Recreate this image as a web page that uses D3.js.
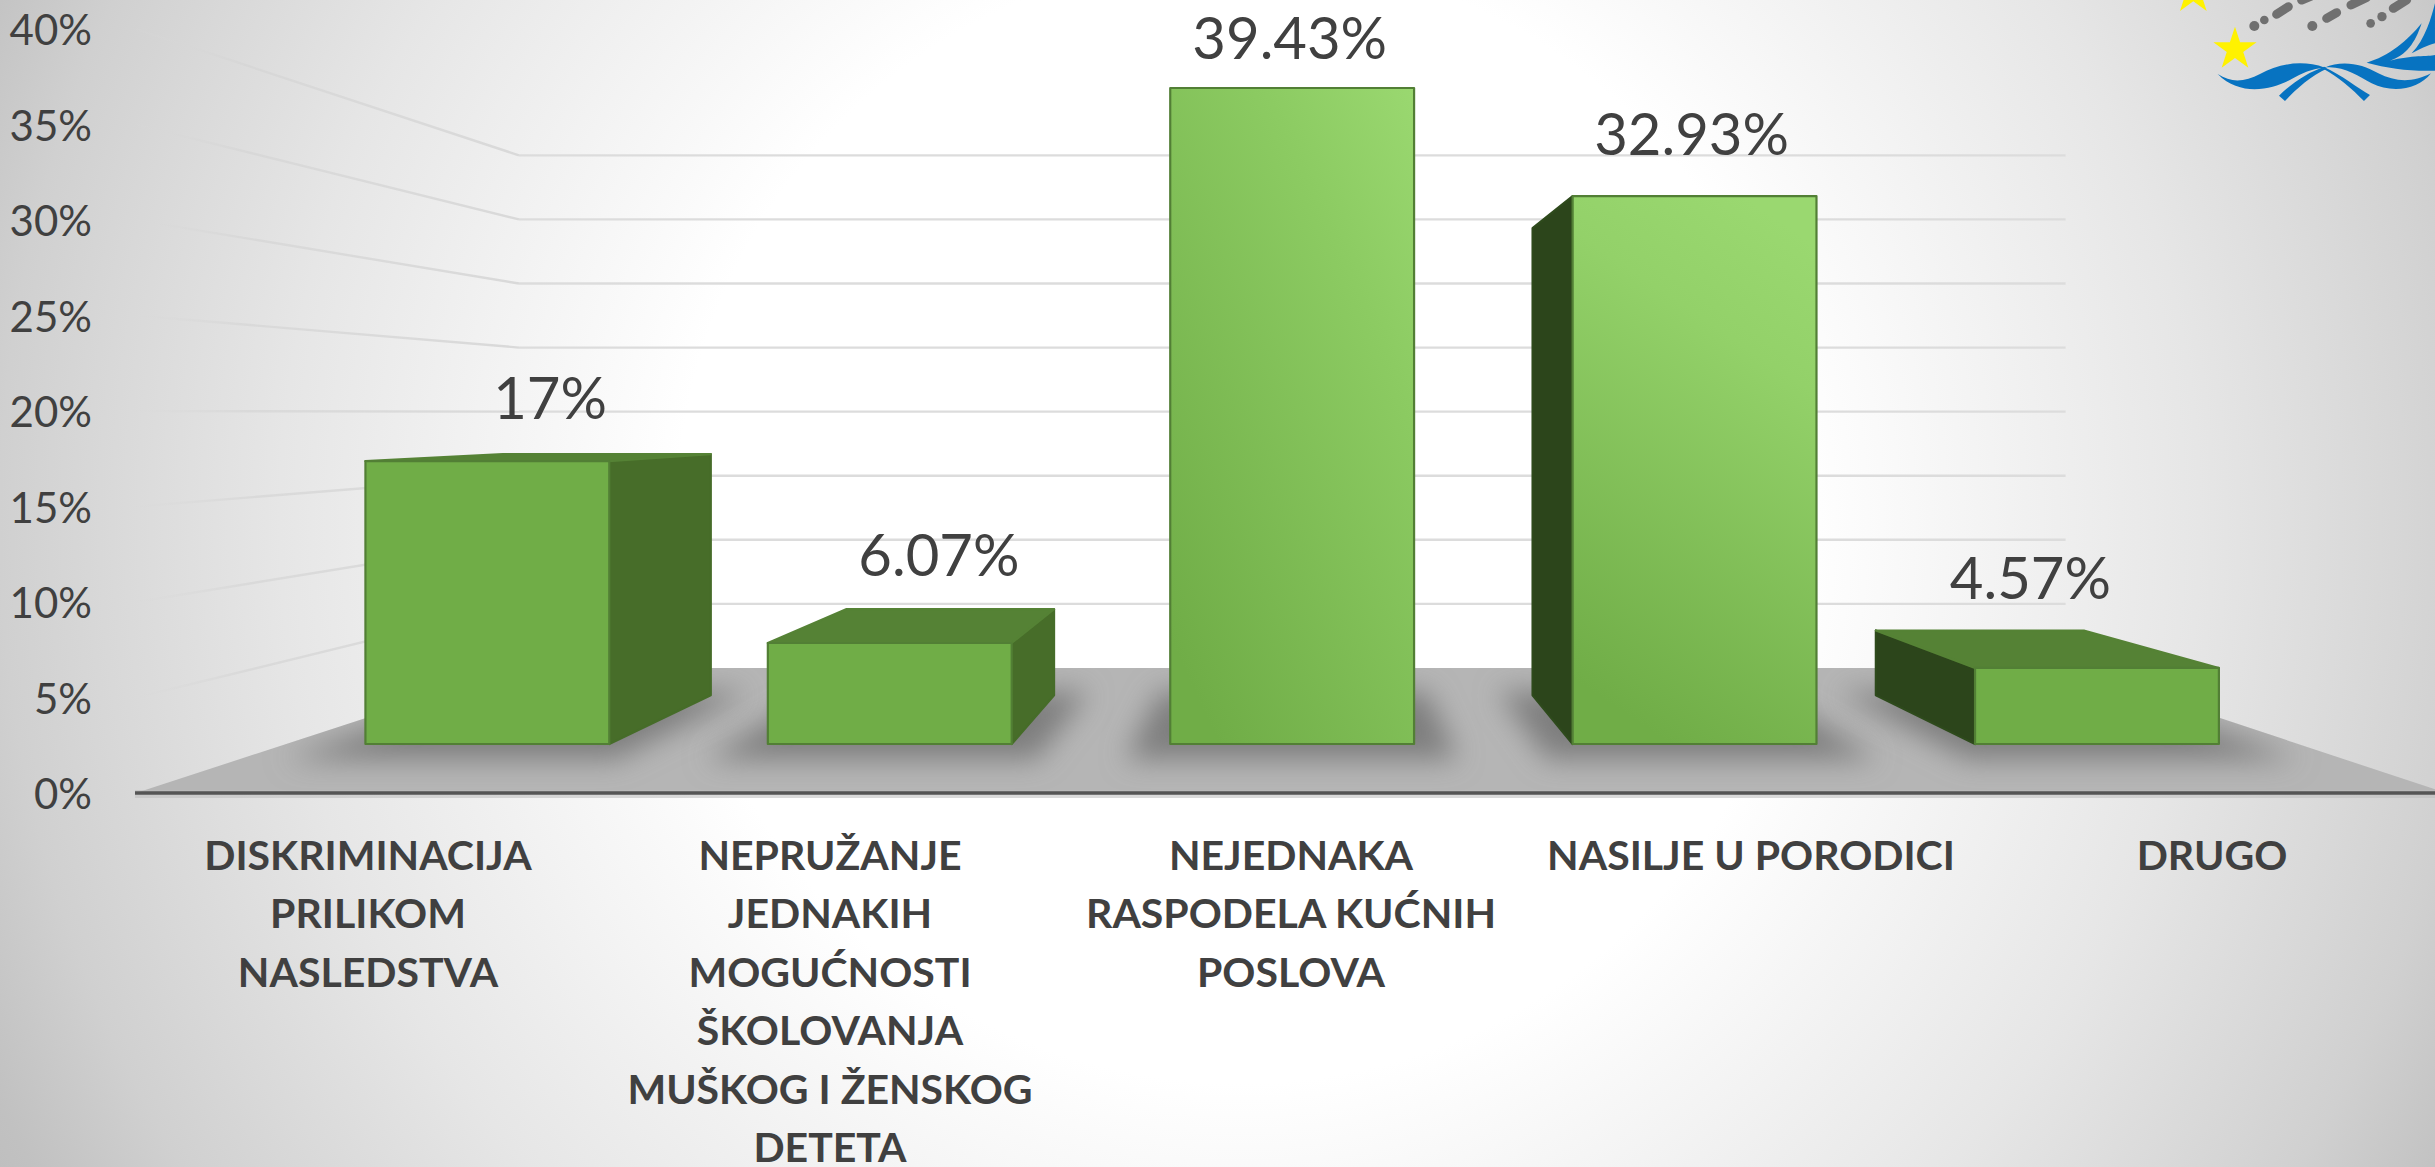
<!DOCTYPE html>
<html><head><meta charset="utf-8">
<script src="https://cdn.jsdelivr.net/npm/d3@7"></script>
<style>html,body{margin:0;padding:0;background:#fff;overflow:hidden}svg{display:block}</style>
</head><body><svg id="c" width="2435" height="1167"></svg>
<script>
const categories = [
  ["DISKRIMINACIJA","PRILIKOM","NASLEDSTVA"],
  ["NEPRUŽANJE","JEDNAKIH","MOGUĆNOSTI","ŠKOLOVANJA","MUŠKOG I ŽENSKOG","DETETA"],
  ["NEJEDNAKA","RASPODELA KUĆNIH","POSLOVA"],
  ["NASILJE U PORODICI"],
  ["DRUGO"]
];
const values = [17, 6.07, 39.43, 32.93, 4.57];
const valueLabels = ["17%","6.07%","39.43%","32.93%","4.57%"];
const ticks = [0,5,10,15,20,25,30,35,40];

// layout / style constants
const W=2435,H=1167, VP={x:1300,y:413};
const sFront=.871, sBack=.743, sWall=.671;
const labelNudge=[[3,-39],[19,-50],[-3,-53],[26,-57],[-8,-50]];
const svg=d3.select("#c");
const defs=svg.append("defs");

const bg=defs.append("radialGradient").attr("id","bg").attr("gradientUnits","userSpaceOnUse")
  .attr("cx",1240).attr("cy",520).attr("r",1400);
[[0,"#ffffff"],[563,"#ffffff"],[770,"#f2f2f2"],[960,"#e6e6e6"],[1140,"#d8d8d8"],[1240,"#d0d0d0"],[1370,"#c1c1c1"],[1400,"#bfbfbf"]]
  .forEach(d=>bg.append("stop").attr("offset",d[0]/1400).attr("stop-color",d[1]));
const fade=defs.append("linearGradient").attr("id","fade").attr("gradientUnits","userSpaceOnUse").attr("x1",134).attr("x2",517).attr("y1",0).attr("y2",0);
fade.append("stop").attr("offset",0).attr("stop-color","#d9d9d9").attr("stop-opacity",0.1);
fade.append("stop").attr("offset",.3).attr("stop-color","#d4d4d4").attr("stop-opacity",.65);
fade.append("stop").attr("offset",1).attr("stop-color","#d9d9d9").attr("stop-opacity",1);
defs.append("filter").attr("id","blur").attr("x","-30%").attr("y","-60%").attr("width","160%").attr("height","220%")
  .append("feGaussianBlur").attr("stdDeviation",14);
[["g3"],["g4"]].forEach(([id],i)=>{
  const g=defs.append("linearGradient").attr("id",id).attr("x1",i?.7:1).attr("y1",0).attr("x2",i?.4:.2).attr("y2",1);
  g.append("stop").attr("offset",0).attr("stop-color","#9ad870");
  g.append("stop").attr("offset",i?.25:.3).attr("stop-color",i?"#93d169":"#8ccb62");
  g.append("stop").attr("offset",1).attr("stop-color","#70ad47");
});

svg.append("rect").attr("width",W).attr("height",H).attr("fill","url(#bg)");

const x=d3.scaleBand().domain(d3.range(values.length)).range([136,2446]).paddingInner(.394).paddingOuter(.197);
const y=d3.scaleLinear().domain([0,40]).range([793,29]);
const P=(px,v,s)=>[VP.x+s*(px-VP.x), VP.y+s*(y(v)-VP.y)];
const line=d3.line();
const poly=pts=>line(pts)+"Z";

// gridlines
const xL=x.range()[0], xR=x.range()[1];
const grid=svg.append("g");
ticks.filter(t=>t>0).forEach(t=>{
  const a=P(xL,t,1),b=P(xL,t,sWall),c=P(xR-5,t,sWall);
  grid.append("line").attr("x1",a[0]).attr("y1",a[1]).attr("x2",b[0]).attr("y2",b[1]+(t==20?.01:0)).attr("stroke","url(#fade)").attr("stroke-width",2.4);
  grid.append("line").attr("x1",b[0]).attr("y1",b[1]).attr("x2",c[0]).attr("y2",c[1]).attr("stroke","#dcdcdc").attr("stroke-width",2.4);
});

// floor
const floorPts=[P(xL,0,1),P(xL,0,sWall),P(xR,0,sWall),P(xR,0,1)];
svg.append("path").attr("d",poly(floorPts)).attr("fill","#b5b5b5");
defs.append("clipPath").attr("id","fc").append("path").attr("d",poly(floorPts));
const shadows=svg.append("g").attr("clip-path","url(#fc)");
values.forEach((v,i)=>{
  const a=x(i),b=a+x.bandwidth();
  shadows.append("path").attr("d",poly([P(a-42,0,sFront+.04),P(b+42,0,sFront+.04),P(b+42,0,sBack-.01),P(a-42,0,sBack-.01)]))
    .attr("fill","#7e7e7e").attr("filter","url(#blur)");
});

// axis line
const ax=svg.append("g");
ax.append("line").attr("x1",135).attr("x2",W).attr("y1",y(0)+1).attr("y2",y(0)+1).attr("stroke","#bdbdbd").attr("stroke-width",8).attr("opacity",.55);
ax.append("line").attr("x1",135).attr("x2",W).attr("y1",y(0)).attr("y2",y(0)).attr("stroke","#555").attr("stroke-width",3.6);

// bars
const edge="#527f35";
const bars=svg.append("g").attr("stroke",edge).attr("stroke-width",2.2).attr("stroke-linejoin","round");
values.forEach((v,i)=>{
  const a=x(i),b=a+x.bandwidth(),g=bars.append("g");
  const frontFill=i==2?"url(#g3)":i==3?"url(#g4)":"#70ad47";
  if(b<VP.x) g.append("path").attr("d",poly([P(b,0,sFront),P(b,v,sFront),P(b,v,sBack),P(b,0,sBack)])).attr("fill","#476d29").attr("stroke","#466c29");
  if(a>VP.x) g.append("path").attr("d",poly([P(a,0,sFront),P(a,v,sFront),P(a,v,sBack),P(a,0,sBack)])).attr("fill","#2c451b").attr("stroke","#2e4a1c");
  if(v<20) g.append("path").attr("d",poly([P(a,v,sFront),P(b,v,sFront),P(b,v,sBack),P(a,v,sBack)])).attr("fill","#558235").attr("stroke","#558235");
  const f=P(a,v,sFront),r=P(b,0,sFront);
  g.append("rect").attr("x",f[0]).attr("y",f[1]).attr("width",r[0]-f[0]).attr("height",r[1]-f[1]).attr("fill",frontFill);
});

// axis labels
const font="Lato, Carlito, sans-serif";
svg.append("g").selectAll("text").data(ticks).join("text")
  .attr("x",92).attr("y",d=>y(d)+16).attr("text-anchor","end")
  .attr("font-family",font).attr("font-size",42).attr("fill","#404040").text(d=>d+"%");

// value labels
svg.append("g").selectAll("text").data(values).join("text")
  .each(function(v,i){
    const c=P(x(i)+x.bandwidth()/2,v,(sFront+sBack)/2);
    d3.select(this).attr("x",c[0]+labelNudge[i][0]).attr("y",c[1]+labelNudge[i][1]);
  })
  .attr("text-anchor","middle").attr("font-family",font).attr("font-size",58).attr("fill","#404040")
  .text((v,i)=>valueLabels[i]);

// category labels
const cg=svg.append("g").attr("font-family",font).attr("font-weight",700).attr("font-size",41).attr("fill","#404040").attr("text-anchor","middle");
const catNudge=[1,1,0,-2,-3];
categories.forEach((ls,i)=>ls.forEach((t,j)=>{
  cg.append("text").attr("x",x(i)+x.bandwidth()/2+catNudge[i]).attr("y",870+j*58.4).text(t);
}));

// logo (decoration, cropped by the page corner)
const logo=svg.append("g").attr("transform","translate(2135,0) scale(.3333)");
const star=d3.symbol().type(d3.symbolStar).size(5200);
[[300,148],[175,-22]].forEach(c=>logo.append("path").attr("d",star()).attr("transform",`translate(${c[0]},${c[1]})`).attr("fill","#fff200"));
const grey="#707070";
[[358,78,15],[388,60,13],[532,78,15],[707,70,13],[741,50,14]].forEach(c=>logo.append("circle").attr("cx",c[0]).attr("cy",c[1]).attr("r",c[2]).attr("fill",grey));
[[425,43,460,20],[500,0,525,-10],[575,55,605,38],[648,15,695,-8],[775,25,815,0]].forEach(l=>logo.append("line").attr("x1",l[0]).attr("y1",l[1]).attr("x2",l[2]).attr("y2",l[3]).attr("stroke",grey).attr("stroke-width",27).attr("stroke-linecap","round"));
const blue="#0773c1";
["M248,222C290,250 330,245 375,222C430,192 500,178 570,203C530,205 500,220 470,237C420,265 320,295 248,222Z",
 "M568,203C620,180 680,190 730,220C780,245 830,250 888,220C850,270 770,280 710,250C670,228 620,195 568,203Z",
 "M570,200C520,215 470,250 432,287L450,303C480,270 530,225 575,206Z",
 "M565,200C620,225 670,265 705,285L687,303C650,265 610,230 565,206Z",
 "M695,188C760,170 820,120 860,70C840,130 815,165 765,182C830,165 880,170 900,165L900,212C830,215 760,205 695,188Z",
 "M830,160C870,120 890,50 900,10L900,130C880,135 850,150 830,160Z"
].forEach(d=>logo.append("path").attr("d",d).attr("fill",blue));
</script></body></html>
